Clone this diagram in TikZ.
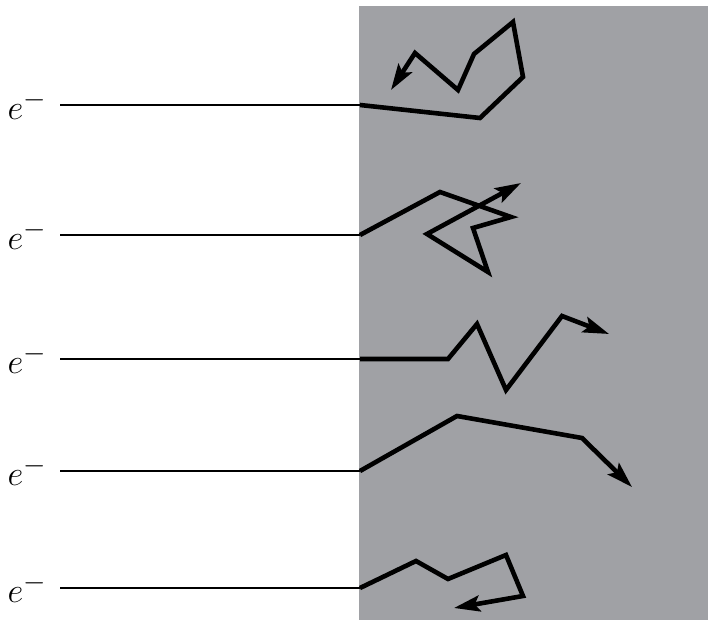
\documentclass[tikz,border=0pt]{standalone}
\usepackage{tikz}
\usetikzlibrary{arrows.meta}

\definecolor{slabgray}{RGB}{160,161,165}

\begin{document}
\begin{tikzpicture}[
  x=0.5pt, y=-0.5pt,
  lbl/.style={font=\fontsize{19}{22}\selectfont, inner ysep=0pt, inner xsep=6.5pt, anchor=east},
  beam/.style={line width=1pt},
  track/.style={line width=2.3pt, line join=miter, -{Stealth[length=13pt, width=8pt, inset=2.5pt]}}
]
\useasboundingbox (0,0) rectangle (708,620);

% the slab
\fill[slabgray] (359,6) rectangle (708,620);

% incoming electrons
\node[lbl] (e1) at (60,105) {$e^-$};
\node[lbl] (e2) at (60,235) {$e^-$};
\node[lbl] (e3) at (60,359) {$e^-$};
\node[lbl] (e4) at (60,471) {$e^-$};
\node[lbl] (e5) at (60,588) {$e^-$};

\coordinate (s1) at (360,105);
\coordinate (s2) at (360,235);
\coordinate (s3) at (360,359);
\coordinate (s4) at (360,471);
\coordinate (s5) at (360,588);

\draw[beam] (e1.east) -- (s1);
\draw[beam] (e2.east) -- (s2);
\draw[beam] (e3.east) -- (s3);
\draw[beam] (e4.east) -- (s4);
\draw[beam] (e5.east) -- (s5);

% paths inside the slab
\draw[track] (s1) -- (480,118) -- (523,77) -- (513,22) -- (474,54) -- (458,90) -- (415,53) -- (391,90);
\draw[track] (s2) -- (440,192) -- (511,217) -- (473,228) -- (488,272) -- (427,234) -- (521,183);
\draw[track] (s3) -- (448,359) -- (477,324) -- (506,390) -- (562,316) -- (609,334);
\draw[track] (s4) -- (457,416) -- (582,438) -- (632,487);
\draw[track] (s5) -- (416,561) -- (448,579) -- (506,555) -- (523,596) -- (454,608);

\end{tikzpicture}
\end{document}
